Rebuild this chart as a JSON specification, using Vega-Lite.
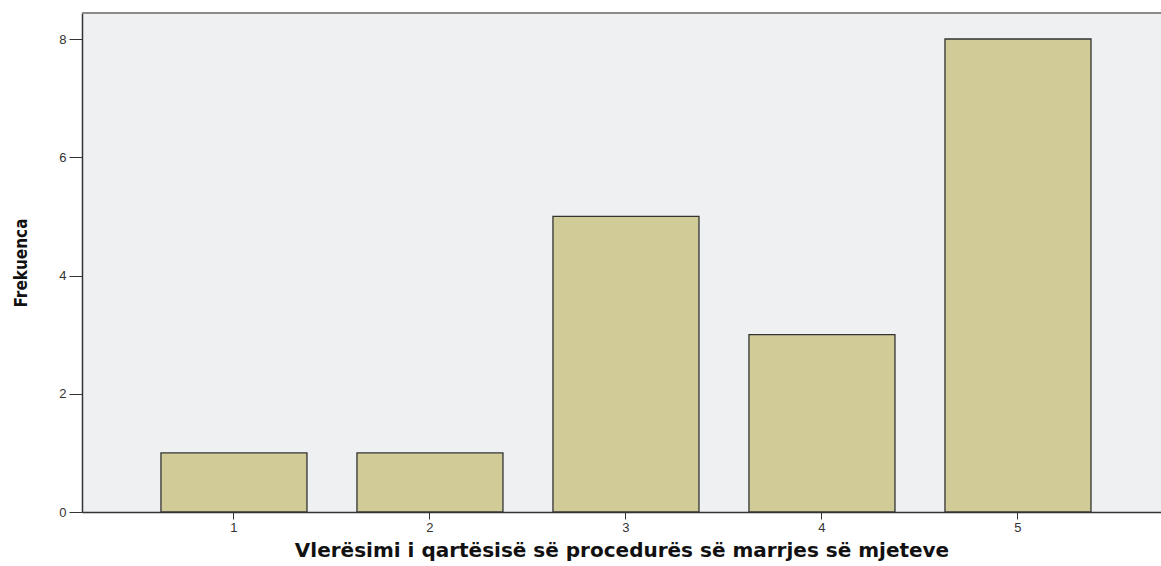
{
  "$schema": "https://vega.github.io/schema/vega-lite/v6.json",
  "autosize": "none",
  "width": 1079,
  "height": 499,
  "padding": {"left": 82, "top": 13, "right": 0, "bottom": 54},
  "background": "white",
  "config": {
    "view": {"fill": "#eff0f2", "stroke": null},
    "axis": {"labelFont": "Liberation Sans", "labelFontSize": 13, "labelColor": "#333", "domainColor": "#333", "tickColor": "#333", "grid": false}
  },
  "data": {"values": [
    {"rating": "1", "freq": 1},
    {"rating": "2", "freq": 1},
    {"rating": "3", "freq": 5},
    {"rating": "4", "freq": 3},
    {"rating": "5", "freq": 8}
  ]},
  "layer": [
    {
      "mark": {"type": "bar", "fill": "#d1cb98", "stroke": "#333", "strokeWidth": 1.3},
      "encoding": {
        "x": {
          "field": "rating", "type": "ordinal",
          "scale": {"paddingInner": 0.255, "paddingOuter": 0.38, "align": 0.53},
          "axis": {"labelAngle": 0, "tickSize": 7, "domainWidth": 1.5, "labelPadding": 2,
                   "title": "Vlerësimi i qartësisë së procedurës së marrjes së mjeteve",
                   "titleFont": "DejaVu Sans", "titleFontWeight": "bold", "titleFontSize": 20, "titleColor": "#111", "titlePadding": 6}
        },
        "y": {
          "field": "freq", "type": "quantitative",
          "scale": {"domain": [0, 8.44], "nice": false},
          "axis": {"values": [0, 2, 4, 6, 8], "format": "d", "tickSize": 13, "domainWidth": 1.5, "labelPadding": 3,
                   "title": "Frekuenca", "titleFont": "DejaVu Sans Condensed", "titleFontWeight": "bold", "titleFontSize": 17, "titleColor": "#111", "titlePadding": 28}
        }
      }
    },
    {
      "mark": {"type": "rule", "color": "#8a8a8a", "strokeWidth": 2},
      "encoding": {"y": {"datum": 8.44, "type": "quantitative"}}
    }
  ]
}
